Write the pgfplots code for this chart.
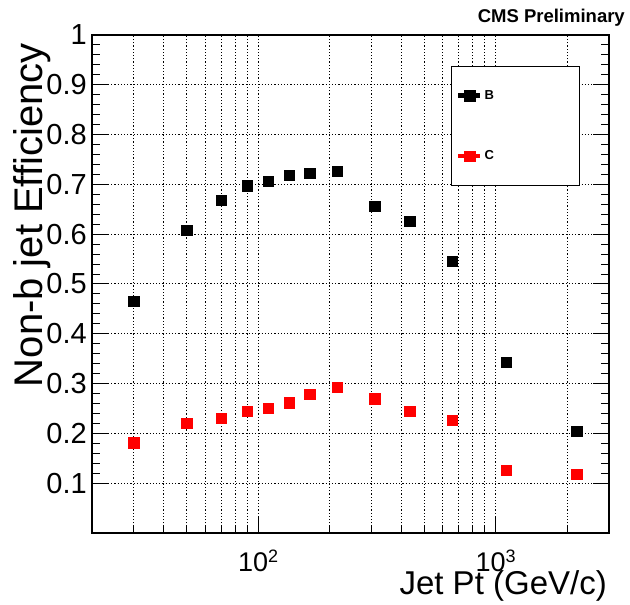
\documentclass[border=0pt]{standalone}
\usepackage{fontspec}
\setmainfont{Liberation Sans}
\usepackage{pgfplots}
\pgfplotsset{compat=1.18}

\begin{document}
\begin{tikzpicture}
\path[use as bounding box] (-92pt,-72pt) rectangle (538pt,533pt);
\begin{axis}[
    at={(0,0)}, anchor=south west,
    scale only axis, width=517pt, height=498pt,
    xmode=log, xmin=20, xmax=3000, ymin=0, ymax=1,
    xtick={100,1000},
    xticklabels={10\raisebox{9pt}{\fontsize{18}{18}\selectfont 2}, 10\raisebox{9pt}{\fontsize{18}{18}\selectfont 3}},
    minor xtick={30,40,50,60,70,80,90,200,300,400,500,600,700,800,900,2000},
    ytick={0.1,0.2,0.3,0.4,0.5,0.6,0.7,0.8,0.9,1},
    yticklabels={0.1,0.2,0.3,0.4,0.5,0.6,0.7,0.8,0.9,1},
    minor y tick num=4,
    xtick pos=bottom, ytick pos=both,
    tick align=inside,
    major tick length=16pt, minor tick length=8pt,
    tick style={black, line width=1pt},
    xmajorgrids, xminorgrids, ymajorgrids,
    grid style={black, line width=1pt, dash pattern=on 1.2pt off 2pt},
    axis line style={line width=2pt},
    xticklabel style={font=\fontsize{27}{27}\selectfont, anchor=north, inner sep=0pt, yshift=-17pt},
    yticklabel style={font=\fontsize{29}{29}\selectfont, anchor=east, inner sep=0pt, xshift=-5pt},
    legend style={at={(0.694,0.938)}, anchor=north west, draw=black, line width=0.8pt,
        font=\bfseries\fontsize{13}{13}\selectfont, inner xsep=5pt, inner ysep=22pt,
        row sep=46pt},
    legend cell align=left,
    legend image code/.code={
        \draw[#1, sharp plot, line width=4.5pt, mark options={solid, line width=0.4pt}, mark size=5.3pt,
              mark repeat=2, mark phase=2] plot coordinates {(0pt,0pt) (11pt,0pt) (22pt,0pt)};
    },
]
\addplot[only marks, mark=square*, mark size=5.2pt, black, mark options={line width=0.4pt}] coordinates {
  (30,0.465) (50,0.608) (70,0.668) (90,0.697) (110,0.706) (135,0.718) (165,0.722)
  (215,0.726) (310,0.656) (435,0.626) (655,0.546) (1105,0.343) (2195,0.204)
};
\addlegendentry{\makebox[88pt][l]{B}}
\addplot[only marks, mark=square*, mark size=5.2pt, red, mark options={line width=0.4pt}] coordinates {
  (30,0.181) (50,0.220) (70,0.230) (90,0.245) (110,0.250) (135,0.262) (165,0.279)
  (215,0.2925) (310,0.270) (435,0.245) (655,0.227) (1105,0.1265) (2195,0.118)
};
\addlegendentry{\makebox[88pt][l]{C}}
\end{axis}
\node[anchor=base east, inner sep=0pt, font=\fontsize{33}{33}\selectfont] at (515pt,-62pt) {Jet Pt (GeV/c)};
\node[rotate=90, anchor=base east, inner sep=0pt, font=\fontsize{40}{40}\selectfont] at (-49pt,490pt) {Non-b jet Efficiency};
\node[anchor=base east, inner sep=0pt, font=\bfseries\fontsize{18.5}{18.5}\selectfont] at (533pt,510pt) {CMS Preliminary};
\end{tikzpicture}
\end{document}
